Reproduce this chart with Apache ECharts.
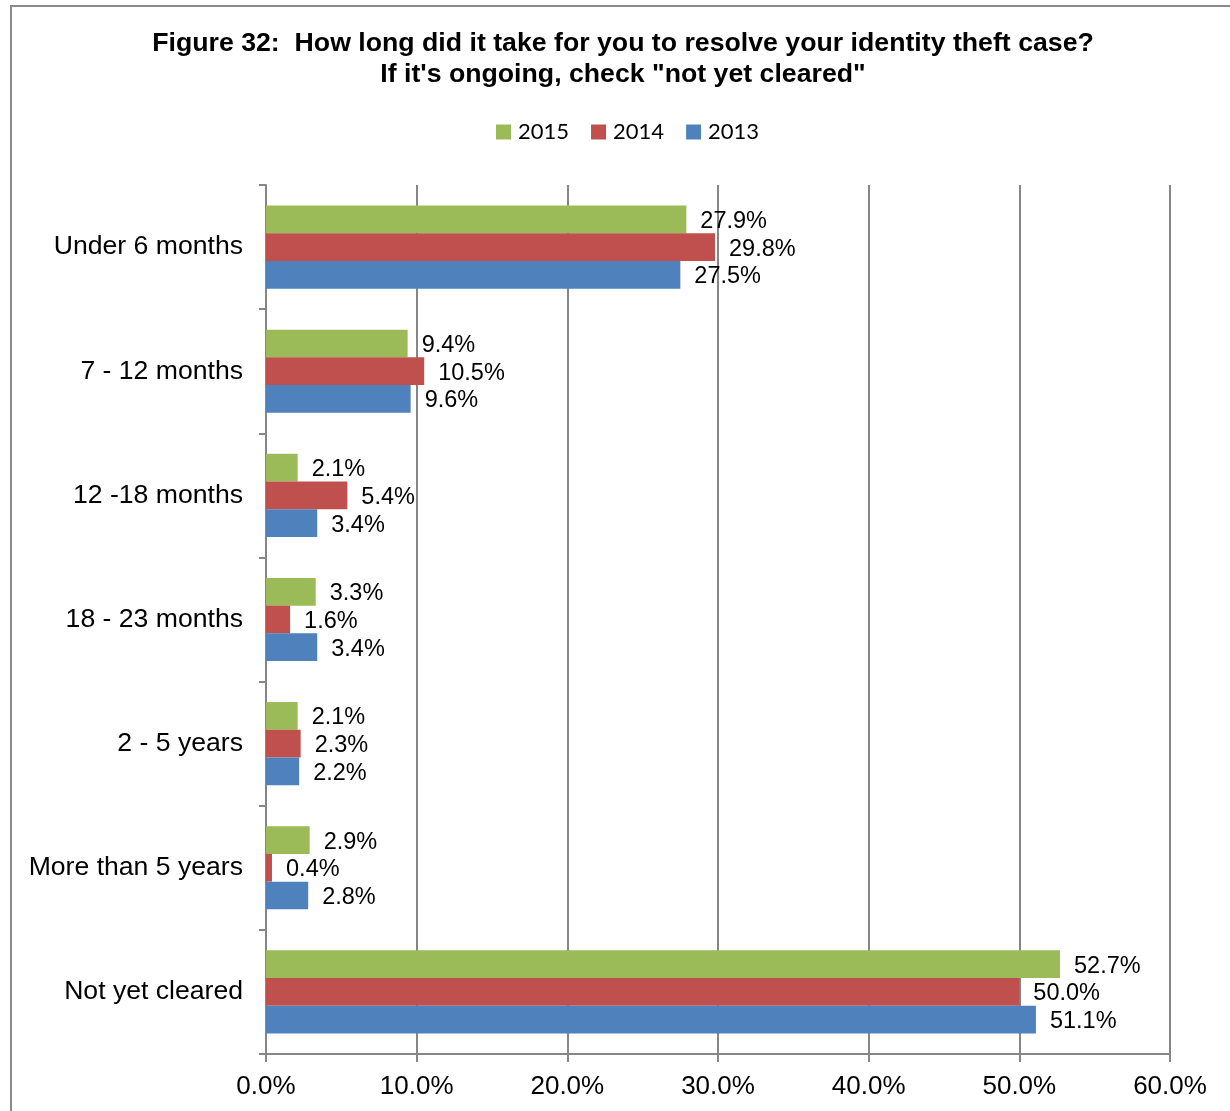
<!DOCTYPE html>
<html>
<head>
<meta charset="utf-8">
<title>Figure 32</title>
<script src="https://cdn.jsdelivr.net/npm/echarts@6/dist/echarts.min.js"></script>
<style>
  html, body { margin: 0; padding: 0; background: #fff; }
  #chart { width: 1230px; height: 1111px; }
</style>
</head>
<body>
<div id="chart"></div>
<script>
// Time needed to resolve an identity theft case, share of respondents (%)
const categories = [
  'Under 6 months',
  '7 - 12 months',
  '12 -18 months',
  '18 - 23 months',
  '2 - 5 years',
  'More than 5 years',
  'Not yet cleared'
];
const years = ['2015', '2014', '2013'];
const values2015 = [27.9, 9.4, 2.1, 3.3, 2.1, 2.9, 52.7];
const values2014 = [29.8, 10.5, 5.4, 1.6, 2.3, 0.4, 50.0];
const values2013 = [27.5, 9.6, 3.4, 3.4, 2.2, 2.8, 51.1];
const xTickValues = [0, 10, 20, 30, 40, 50, 60];

const seriesValues = [values2015, values2014, values2013];
const seriesColors = ['#9BBB59', '#C0504D', '#4F81BD'];
const gridColor = '#868686';
const pct = v => Number(v).toFixed(1) + '%';

const chart = echarts.init(document.getElementById('chart'));

chart.setOption({
  backgroundColor: '#ffffff',
  animation: false,
  title: {
    text: 'Figure 32:  How long did it take for you to resolve your identity theft case?\nIf it\'s ongoing, check "not yet cleared"',
    left: 623,
    top: 28,
    textAlign: 'center',
    padding: 0,
    textStyle: {
      fontFamily: 'Liberation Sans, Arial, sans-serif',
      fontWeight: 'bold',
      fontSize: 26.7,
      lineHeight: 31,
      color: '#000'
    }
  },
  legend: {
    data: years,
    left: 496,
    top: 121,
    padding: 0,
    icon: 'rect',
    itemWidth: 15,
    itemHeight: 15,
    itemGap: 22,
    textStyle: {
      fontFamily: 'Lato, Open Sans, sans-serif',
      fontSize: 22,
      color: '#000',
      padding: [0, 0, 0, 2]
    }
  },
  graphic: [{
    type: 'rect',
    shape: { x: 11, y: 6, width: 1240, height: 1130 },
    style: { fill: 'none', stroke: '#898989', lineWidth: 2 },
    silent: true,
    z: 100
  }],
  grid: {
    left: 266,
    right: 60,
    top: 185,
    bottom: 57,
    containLabel: false
  },
  xAxis: {
    type: 'value',
    min: 0,
    max: 60,
    interval: 10,
    axisLine: { show: true, lineStyle: { color: gridColor, width: 2 } },
    axisTick: { show: true, length: 8, lineStyle: { color: gridColor, width: 2 } },
    splitLine: { show: true, lineStyle: { color: gridColor, width: 2 } },
    axisLabel: {
      margin: 20,
      fontFamily: 'Liberation Sans, Arial, sans-serif',
      fontSize: 26,
      color: '#000',
      formatter: v => (xTickValues.includes(v) ? pct(v) : '')
    }
  },
  yAxis: {
    type: 'category',
    data: categories,
    inverse: true,
    axisLine: { show: true, lineStyle: { color: gridColor, width: 2 } },
    axisTick: { show: true, length: 7, alignWithLabel: false, lineStyle: { color: gridColor, width: 2 } },
    splitLine: { show: false },
    axisLabel: {
      margin: 23,
      fontFamily: 'Liberation Sans, Arial, sans-serif',
      fontSize: 26.6,
      color: '#000',
      padding: [4, 0, 0, 0]
    }
  },
  series: years.map((y, i) => ({
    name: y,
    type: 'bar',
    data: seriesValues[i],
    barGap: '0%',
    barCategoryGap: '33%',
    itemStyle: { color: seriesColors[i] },
    label: {
      show: true,
      position: 'right',
      distance: 14,
      offset: [0, 2],
      fontFamily: 'Liberation Sans, Arial, sans-serif',
      fontSize: 23.5,
      color: '#000',
      formatter: p => pct(p.value)
    }
  }))
});
</script>
</body>
</html>
